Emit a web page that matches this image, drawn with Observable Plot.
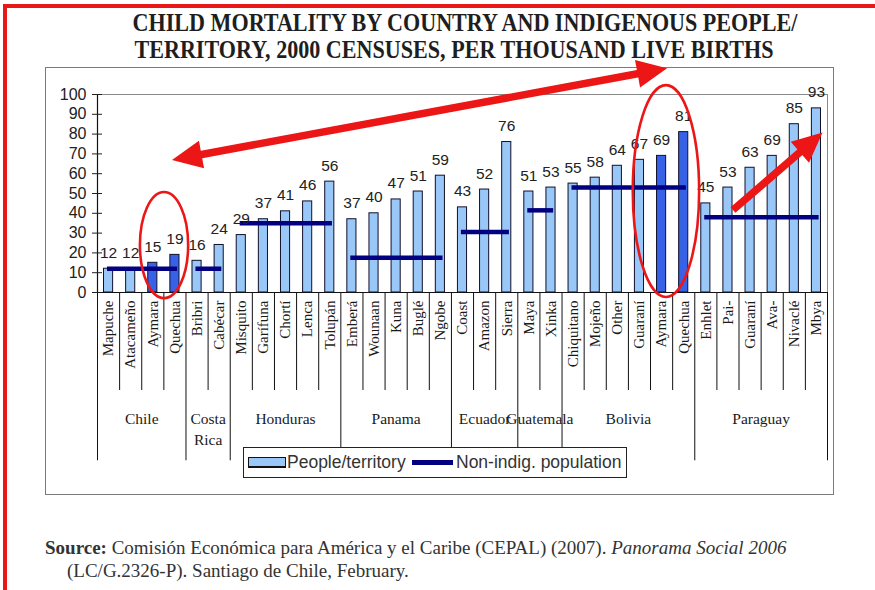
<!DOCTYPE html>
<html><head><meta charset="utf-8">
<script src="https://cdn.jsdelivr.net/npm/d3@7"></script>
<script src="https://cdn.jsdelivr.net/npm/@observablehq/plot@0.6"></script>
<style>
html,body{margin:0;padding:0;background:#fff;}
#page{position:relative;width:875px;height:590px;overflow:hidden;background:#fff;}
#frame{position:absolute;left:3px;top:4px;width:900px;height:620px;border-top:4px solid #e81818;border-left:4px solid #e81818;}
.title{position:absolute;font-family:"Liberation Serif","Times New Roman",serif;font-weight:bold;font-size:26px;color:#1e1e1e;white-space:nowrap;line-height:26px;height:26px;transform:translateX(-50%) scaleX(0.85);}
#box{position:absolute;left:45px;top:67px;width:787px;height:426px;border:1px solid #7a7a7a;background:#fff;}
#chart{position:absolute;left:46px;top:68px;}
#legend{position:absolute;left:243px;top:447px;width:382px;height:29px;border:1px solid #222;background:#fff;font-family:"Liberation Sans",Arial,sans-serif;font-size:17.5px;color:#333;white-space:nowrap;}
#legend .sw1{position:absolute;left:4px;top:9px;width:36px;height:8px;background:#99c8f8;border:1px solid #111;border-bottom-width:2px;}
#legend .sw2{position:absolute;left:168px;top:12px;width:41px;height:5px;background:#000080;}
#legend .t1{position:absolute;left:43px;top:4px;}
#legend .t2{position:absolute;left:212px;top:4px;}
.src{position:absolute;font-family:"Liberation Serif","Times New Roman",serif;font-size:19px;color:#333;white-space:nowrap;}
</style></head>
<body>
<div id="page">
  <div id="frame"></div>
  <div class="title" style="left:465px;top:10px;">CHILD MORTALITY BY COUNTRY AND INDIGENOUS PEOPLE/</div>
  <div class="title" style="left:454px;top:37px;">TERRITORY, 2000 CENSUSES, PER THOUSAND LIVE BIRTHS</div>
  <div id="box"></div>
  <div id="chart"></div>
  <div id="legend"><span class="sw1"></span><span class="t1">People/territory</span><span class="sw2"></span><span class="t2">Non-indig. population</span></div>
  <div class="src" style="left:45px;top:537px;"><b>Source:</b> Comisión Económica para América y el Caribe (CEPAL) (2007). <i>Panorama Social 2006</i></div>
  <div class="src" style="left:67px;top:560px;">(LC/G.2326-P). Santiago de Chile, February.</div>
</div>
<script>
// ---- data ----
const groups = ["Chile", "Costa Rica", "Honduras", "Panama", "Ecuador", "Guatemala", "Bolivia", "Paraguay"];
const groupLabels = ["Chile", "Costa\nRica", "Honduras", "Panama", "Ecuador", "Guatemala", "Bolivia", "Paraguay"];
const groupSizes = [4, 2, 5, 5, 3, 2, 6, 6];
const peoples = ["Mapuche", "Atacameño", "Aymara", "Quechua",
  "Bribri", "Cabécar",
  "Misquito", "Garífuna", "Chortí", "Lenca", "Tolupán",
  "Emberá", "Wounaan", "Kuna", "Buglé", "Ngobe",
  "Coast", "Amazon", "Sierra",
  "Maya", "Xinka",
  "Chiquitano", "Mojeño", "Other", "Guaraní", "Aymara", "Quechua",
  "Enhlet", "Pai-", "Guaraní", "Ava-", "Nivaclé", "Mbya"];
const mortality = [12, 12, 15, 19,
  16, 24,
  29, 37, 41, 46, 56,
  37, 40, 47, 51, 59,
  43, 52, 76,
  51, 53,
  55, 58, 64, 67, 69, 81,
  45, 53, 63, 69, 85, 93];
const nonIndigenous = [12, 12, 35, 17.5, 30.5, 41.5, 53, 38];
const highlighted = ["Chile/Aymara", "Chile/Quechua", "Bolivia/Aymara", "Bolivia/Quechua"];
const yTicks = [0, 10, 20, 30, 40, 50, 60, 70, 80, 90, 100];
// annotations (data units: x = people index, y = mortality)
const arrows = [
  {x1: 25.77, y1: 113, x2: 3.39, y2: 66.7, both: true},
  {x1: 28.75, y1: 41.4, x2: 32.8, y2: 80.5, both: false}
];
const ellipses = [
  {x: 3.03, y: 23.7, rx: 1.09, ry: 26.8},
  {x: 25.72, y: 51, rx: 1.5, ry: 53.5}
];

// ---- tables ----
const groupRows = [];
let acc = 0;
groups.forEach((g, k) => {
  groupRows.push({group: g, label: groupLabels[k], start: acc, end: acc + groupSizes[k] - 1, nonIndig: nonIndigenous[k]});
  acc += groupSizes[k];
});
const rows = peoples.map((p, i) => {
  const g = groupRows.find(r => i >= r.start && i <= r.end);
  return {i, people: p, country: g.group, value: mortality[i], hi: highlighted.includes(g.group + "/" + p)};
});
const boundaries = new Set(groupRows.map(r => r.start).concat([peoples.length]));

const RED = "#ec1616";
function arrowMark(index, scales) {
  const g = d3.create("svg:g");
  for (const a of arrows) {
    const x1 = scales.x(a.x1), y1 = scales.y(a.y1), x2 = scales.x(a.x2), y2 = scales.y(a.y2);
    const dx = x2 - x1, dy = y2 - y1, len = Math.hypot(dx, dy), ux = dx / len, uy = dy / len;
    const L = 30, Wd = 14;
    const head = (tx, ty, sx, sy) => {
      const bx = tx - sx * L, by = ty - sy * L;
      return `${tx},${ty} ${bx - sy * Wd},${by + sx * Wd} ${bx + sy * Wd},${by - sx * Wd}`;
    };
    const sx1 = a.both ? x1 + ux * (L - 4) : x1, sy1 = a.both ? y1 + uy * (L - 4) : y1;
    g.append("line").attr("x1", sx1).attr("y1", sy1).attr("x2", x2 - ux * (L - 4)).attr("y2", y2 - uy * (L - 4))
      .attr("stroke", RED).attr("stroke-width", 7.5);
    g.append("polygon").attr("points", head(x2, y2, ux, uy)).attr("fill", RED);
    if (a.both) g.append("polygon").attr("points", head(x1, y1, -ux, -uy)).attr("fill", RED);
  }
  return g.node();
}
function ellipseMark(index, scales) {
  const g = d3.create("svg:g");
  for (const e of ellipses) {
    const cx = scales.x(e.x), cy = scales.y(e.y);
    g.append("ellipse").attr("cx", cx).attr("cy", cy)
      .attr("rx", Math.abs(scales.x(e.x + e.rx) - cx)).attr("ry", Math.abs(scales.y(e.y + e.ry) - cy))
      .attr("fill", "none").attr("stroke", RED).attr("stroke-width", 2.6);
  }
  return g.node();
}

const serif = "Liberation Serif, Times New Roman, serif";
const svg = Plot.plot({
  width: 786, height: 425,
  marginLeft: 51, marginRight: 5, marginTop: 26, marginBottom: 201,
  x: {type: "linear", domain: [0, peoples.length], axis: null},
  y: {domain: [0, 100], axis: null},
  style: {fontFamily: "Liberation Sans, Arial, sans-serif", fontSize: "16px", color: "#222", background: "transparent", overflow: "visible"},
  marks: [
    Plot.frame({stroke: "#8a8a8a"}),
    Plot.rect(rows, {x1: "i", x2: d => d.i + 1, y1: 0, y2: "value", insetLeft: 6.5, insetRight: 6.5,
      fill: d => d.hi ? "#3862e6" : "#99c8f8", stroke: "#10102a", strokeWidth: 1}),
    Plot.ruleY(groupRows, {y: "nonIndig", x1: d => d.start + 0.45, x2: d => d.end + 0.62, stroke: "#000080", strokeWidth: 4.5}),
    Plot.ruleX(d3.range(0, peoples.length + 1), {y1: 0, y2: d => boundaries.has(d) ? -85 : -49.5, stroke: "#111", strokeWidth: 1}),
    Plot.ruleX([0], {y1: 0, y2: 100, stroke: "#111", strokeWidth: 1.2}),
    Plot.ruleY([0], {stroke: "#111", strokeWidth: 1.2}),
    Plot.axisY({ticks: yTicks, tickSize: 5, tickPadding: 6, fontSize: 16, fill: "#222"}),
    Plot.axisY({ticks: yTicks, tickSize: 5, dx: 5, tickFormat: () => ""}),
    Plot.text(rows, {x: d => d.i + 0.5, y: 0, text: "people", rotate: -90, textAnchor: "end", dy: 8,
      fontFamily: serif, fontSize: 15, fill: "#1a1a1a", ariaLabel: "people-labels"}),
    Plot.text(rows, {x: d => d.i + 0.5, y: "value", text: d => String(d.value), dy: -11, lineAnchor: "bottom",
      fontSize: 15.5, fill: "#222", ariaLabel: "value-labels"}),
    Plot.text(groupRows, {x: d => (d.start + d.end + 1) / 2, y: -58.5, text: "label", lineAnchor: "top", lineHeight: 1.4,
      fontFamily: serif, fontSize: 15.5, fill: "#1a1a1a", ariaLabel: "group-labels"}),
    ellipseMark,
    arrowMark
  ]
});

function stretch(label, sx, sy) {
  svg.querySelectorAll(`g[aria-label="${label}"] text`).forEach(t => {
    const tr = t.getAttribute("transform");
    if (tr) t.setAttribute("transform", tr + ` scale(${sx},${sy})`);
    else {
      const x = +t.getAttribute("x") || 0, y = +t.getAttribute("y") || 0;
      t.setAttribute("transform", `translate(${x},${y}) scale(${sx},${sy}) translate(${-x},${-y})`);
    }
  });
}
stretch("people-labels", 1.27, 1);
stretch("value-labels", 1, 1.2);
stretch("group-labels", 1, 1.3);
document.getElementById("chart").appendChild(svg);
</script>
</body></html>
